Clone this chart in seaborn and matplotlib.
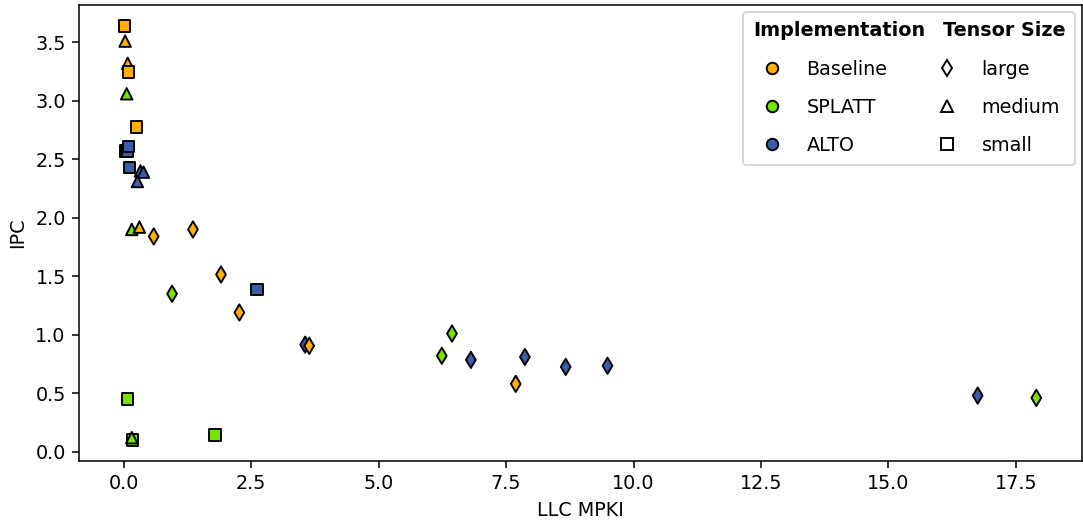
import numpy as np
import pandas as pd
import matplotlib
matplotlib.use("Agg")
import matplotlib.pyplot as plt
from matplotlib.lines import Line2D
import seaborn as sns

# ---- data ----
splatt_size = ["small", "medium", "medium", "large", "small", "small", "medium", "small", "large", "large", "large"]
splatt_mpki = [0.04, 0.06, 0.16, 0.95, 0.08, 0.17, 0.16, 1.79, 6.24, 6.44, 17.90]
splatt_ipc = [2.57, 3.06, 1.90, 1.35, 0.45, 0.10, 0.12, 0.145, 0.82, 1.01, 0.46]

alto_size = ["small", "small", "small", "medium", "medium", "medium", "small", "large", "large", "large", "large", "large", "large"]
alto_mpki = [0.08, 0.10, 0.12, 0.33, 0.39, 0.27, 2.62, 3.56, 6.81, 7.87, 8.67, 9.49, 16.75]
alto_ipc = [2.57, 2.61, 2.43, 2.40, 2.39, 2.31, 1.385, 0.915, 0.785, 0.81, 0.725, 0.735, 0.48]

base_size = ["small", "medium", "medium", "small", "small", "medium", "large", "large", "large", "large", "large", "large"]
base_mpki = [0.02, 0.03, 0.08, 0.10, 0.25, 0.31, 0.59, 1.36, 1.91, 2.27, 3.64, 7.69]
base_ipc = [3.64, 3.51, 3.32, 3.245, 2.775, 1.92, 1.84, 1.90, 1.515, 1.19, 0.905, 0.58]

impl_order = ["Baseline", "SPLATT", "ALTO"]
size_order = ["large", "medium", "small"]
impl_colors = {"Baseline": "#FFB000", "SPLATT": "#78E300", "ALTO": "#3F5CAA"}
size_markers = {"large": "d", "medium": "^", "small": "s"}

df = pd.concat([
    pd.DataFrame({"LLC MPKI": splatt_mpki, "IPC": splatt_ipc, "Implementation": "SPLATT", "Tensor Size": splatt_size}),
    pd.DataFrame({"LLC MPKI": alto_mpki, "IPC": alto_ipc, "Implementation": "ALTO", "Tensor Size": alto_size}),
    pd.DataFrame({"LLC MPKI": base_mpki, "IPC": base_ipc, "Implementation": "Baseline", "Tensor Size": base_size}),
], ignore_index=True)

plt.rcParams["font.size"] = 10
plt.rcParams["font.family"] = ["DejaVu Sans"]

dpi = 138
fig, ax = plt.subplots(figsize=(1083 / dpi, 520 / dpi), dpi=dpi)
fig.subplots_adjust(left=0.073, right=0.999, bottom=0.114, top=0.990)

sns.scatterplot(data=df, x="LLC MPKI", y="IPC", hue="Implementation", style="Tensor Size",
                hue_order=impl_order, style_order=size_order, palette=impl_colors,
                markers=size_markers, s=36, edgecolor="black", linewidth=1,
                legend=False, ax=ax)

# ---- legend ----
handles = [Line2D([], [], linestyle="none", visible=False)]
labels = ["Implementation"]
for impl in impl_order:
    handles.append(Line2D([], [], linestyle="none", marker="o", markersize=6,
                          markerfacecolor=impl_colors[impl], markeredgecolor="black", markeredgewidth=1))
    labels.append(impl)
handles.append(Line2D([], [], linestyle="none", visible=False))
labels.append("Tensor Size")
for sz in size_order:
    handles.append(Line2D([], [], linestyle="none", marker=size_markers[sz], markersize=6,
                          markerfacecolor="white", markeredgecolor="black", markeredgewidth=1))
    labels.append(sz)

leg = ax.legend(handles, labels, ncol=2, loc="upper right", labelspacing=1.0,
                columnspacing=0.15, borderaxespad=0.35, borderpad=0.5)
cols = leg._legend_handle_box.get_children()
for ci, col in enumerate(cols):
    row = col.get_children()[0]
    draw_area, text_area = row.get_children()
    draw_area.set_width(0)
    if ci == 0:
        row.sep = 0
    for t in text_area.get_children():
        t.set_fontweight("bold")

fig.savefig("out.png", dpi=dpi)
